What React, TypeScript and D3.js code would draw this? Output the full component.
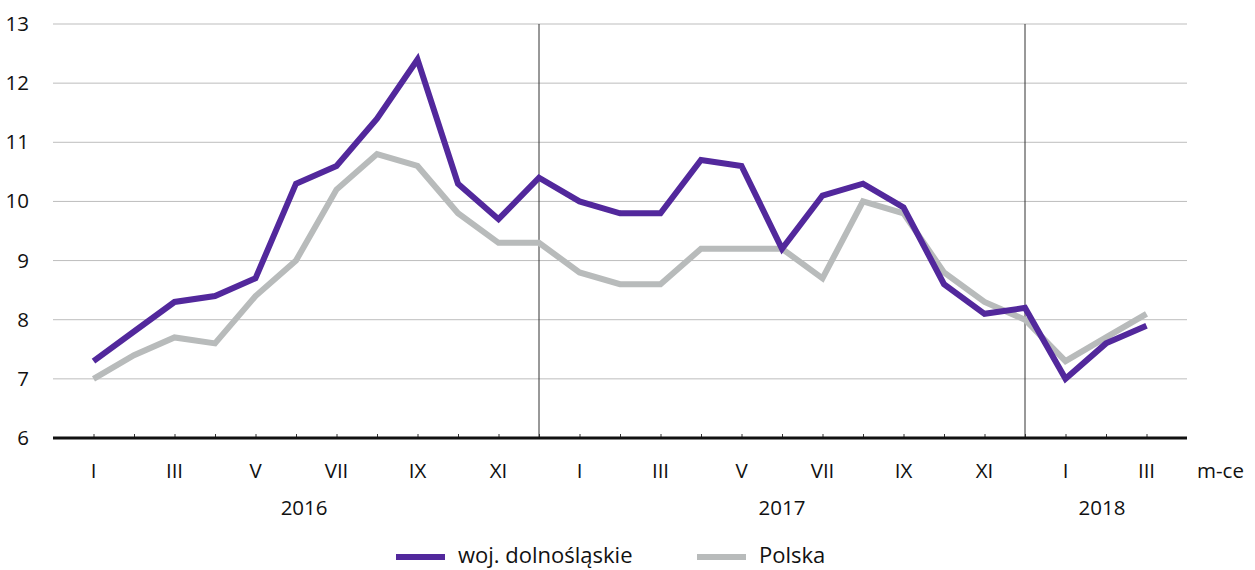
import { useRef, useEffect } from "react";
import * as d3 from "d3";

// months Jan 2016 .. Mar 2018
const months = [
  "I", "II", "III", "IV", "V", "VI", "VII", "VIII", "IX", "X", "XI", "XII",
  "I", "II", "III", "IV", "V", "VI", "VII", "VIII", "IX", "X", "XI", "XII",
  "I", "II", "III",
];
const dolnoslaskie = [
  7.3, 7.8, 8.3, 8.4, 8.7, 10.3, 10.6, 11.4, 12.4, 10.3, 9.7, 10.4,
  10.0, 9.8, 9.8, 10.7, 10.6, 9.2, 10.1, 10.3, 9.9, 8.6, 8.1, 8.2,
  7.0, 7.6, 7.9,
];
const polska = [
  7.0, 7.4, 7.7, 7.6, 8.4, 9.0, 10.2, 10.8, 10.6, 9.8, 9.3, 9.3,
  8.8, 8.6, 8.6, 9.2, 9.2, 9.2, 8.7, 10.0, 9.8, 8.8, 8.3, 8.0,
  7.3, 7.7, 8.1,
];
const years = ["2016", "2017", "2018"];
const yearPos = [5.2, 17, 24.9]; // label centre, in month index
const yearBreaks = [11, 23];
const yTicks = [6, 7, 8, 9, 10, 11, 12, 13];
const seriesNames = ["woj. dolnośląskie", "Polska"];
const colors = ["#52289c", "#b8bbbb"];

const App = () => {
  const svgRef = useRef<SVGSVGElement>(null);

  useEffect(() => {
    const w = 1255;
    const h = 570;
    const font = "'Open Sans', sans-serif";
    const svg = d3.select(svgRef.current).attr("width", w).attr("height", h);
    svg.selectAll("*").remove();

    const x = d3.scaleLinear().domain([-1, months.length]).range([53, 1187]);
    const y = d3.scaleLinear().domain([6, 13]).range([438, 24]);

    // grid
    svg
      .append("g")
      .selectAll("line")
      .data(yTicks.filter((t) => t > 6))
      .join("line")
      .attr("x1", x(-1))
      .attr("x2", x(months.length))
      .attr("y1", (d) => y(d))
      .attr("y2", (d) => y(d))
      .attr("stroke", "#bdbdbd")
      .attr("stroke-width", 1);

    // year separators
    svg
      .append("g")
      .selectAll("line")
      .data(yearBreaks)
      .join("line")
      .attr("x1", (d) => x(d))
      .attr("x2", (d) => x(d))
      .attr("y1", y(13))
      .attr("y2", y(6))
      .attr("stroke", "#333")
      .attr("stroke-width", 1);

    // y labels
    svg
      .append("g")
      .selectAll("text")
      .data(yTicks)
      .join("text")
      .attr("x", 29)
      .attr("y", (d) => y(d) + 7)
      .attr("text-anchor", "end")
      .attr("font-family", font)
      .attr("font-size", 20.5)
      .attr("fill", "#111")
      .text((d) => d);

    // lines
    const line = d3
      .line<number>()
      .x((d, i) => x(i))
      .y((d) => y(d));
    [polska, dolnoslaskie].forEach((s, k) => {
      svg
        .append("path")
        .datum(s)
        .attr("d", line)
        .attr("fill", "none")
        .attr("stroke", k === 0 ? colors[1] : colors[0])
        .attr("stroke-width", 6)
        .attr("stroke-linejoin", "miter");
    });

    // x axis
    const xAxis = d3
      .axisBottom(x)
      .tickValues(d3.range(months.length))
      .tickSize(-4)
      .tickFormat(() => "");
    const ax = svg.append("g").attr("transform", `translate(0,${y(6)})`).call(xAxis);
    ax.select(".domain").remove();
    ax.selectAll(".tick line").attr("stroke", "#333");
    svg
      .append("line")
      .attr("x1", x(-1))
      .attr("x2", x(months.length))
      .attr("y1", y(6))
      .attr("y2", y(6))
      .attr("stroke", "#111")
      .attr("stroke-width", 3);

    // month labels (every other)
    svg
      .append("g")
      .selectAll("text")
      .data(months.map((m, i) => ({ m, i })).filter((d) => d.i % 2 === 0))
      .join("text")
      .attr("x", (d) => x(d.i))
      .attr("y", 478)
      .attr("text-anchor", "middle")
      .attr("font-family", font)
      .attr("font-size", 20.5)
      .attr("fill", "#111")
      .text((d) => d.m);
    svg
      .append("text")
      .attr("x", 1197)
      .attr("y", 478)
      .attr("font-family", font)
      .attr("font-size", 20.5)
      .attr("fill", "#111")
      .text("m-ce");

    svg
      .append("g")
      .selectAll("text")
      .data(years)
      .join("text")
      .attr("x", (d, i) => x(yearPos[i]))
      .attr("y", 515)
      .attr("text-anchor", "middle")
      .attr("font-family", font)
      .attr("font-size", 20.5)
      .attr("fill", "#111")
      .text((d) => d);

    // legend
    const legX = [396, 697];
    const leg = svg
      .append("g")
      .selectAll("g")
      .data(seriesNames)
      .join("g")
      .attr("transform", (d, i) => `translate(${legX[i]},557)`);
    leg
      .append("line")
      .attr("x1", 0)
      .attr("x2", 49)
      .attr("stroke", (d, i) => colors[i])
      .attr("stroke-width", 6);
    leg
      .append("text")
      .attr("x", 62)
      .attr("y", 6)
      .attr("font-family", font)
      .attr("font-size", 22)
      .attr("fill", "#111")
      .text((d) => d);
  }, []);

  return <svg ref={svgRef} style={{ position: "absolute", left: 0, top: 0 }}></svg>;
};

export default App;
